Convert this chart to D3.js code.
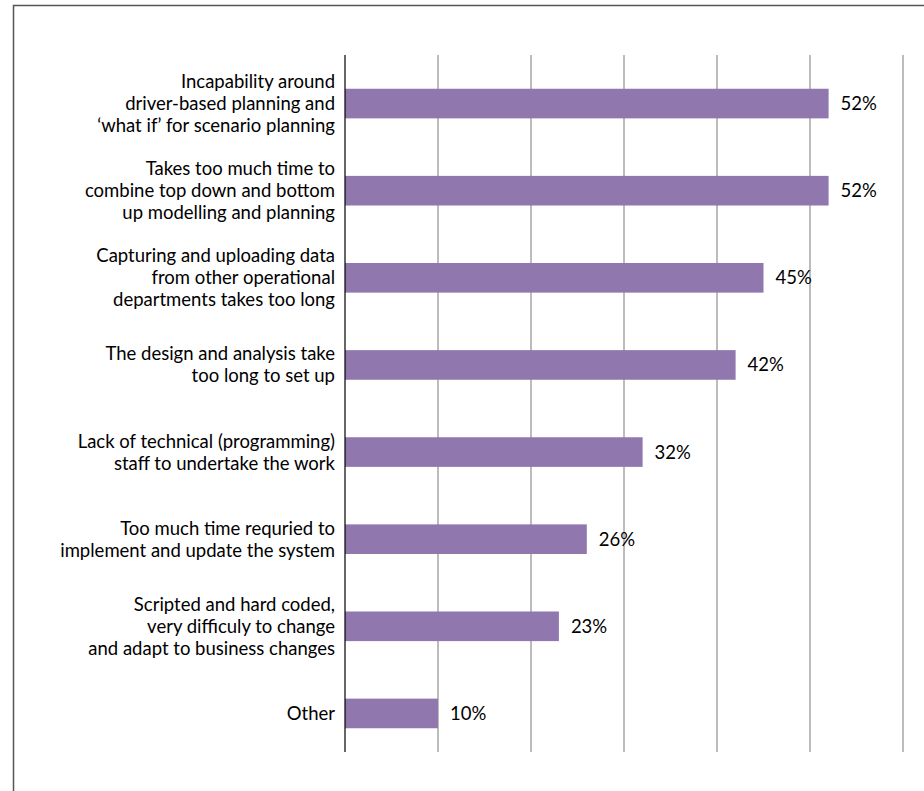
<!DOCTYPE html>
<html>
<head>
<meta charset="utf-8">
<script src="https://cdn.jsdelivr.net/npm/d3@7/dist/d3.min.js"></script>
<style>
  html, body { margin: 0; padding: 0; background: #fff; }
  svg { display: block; }
</style>
</head>
<body>
<svg id="chart" width="924" height="791"></svg>
<script>
// Survey responses: main frustrations with current planning tools
const categories = [
  ["Incapability around", "driver-based planning and", "\u2018what if\u2019 for scenario planning"],
  ["Takes too much time to", "combine top down and bottom", "up modelling and planning"],
  ["Capturing and uploading data", "from other operational", "departments takes too long"],
  ["The design and analysis take", "too long to set up"],
  ["Lack of technical (programming)", "staff to undertake the work"],
  ["Too much time requried to", "implement and update the system"],
  ["Scripted and hard coded,", "very difficuly to change", "and adapt to business changes"],
  ["Other"]
];
const values = [52, 52, 45, 42, 32, 26, 23, 10];
const xTicks = [0, 10, 20, 30, 40, 50, 60];

const svg = d3.select("#chart");
const fontFamily = "Lato, 'Open Sans', sans-serif";

// outer frame
svg.append("rect")
  .attr("x", 13.5).attr("y", 5.5)
  .attr("width", 930).attr("height", 800)
  .attr("fill", "none")
  .attr("stroke", "#555")
  .attr("stroke-width", 1.5);

const axisTop = 55, axisBottom = 752;
const plot = { left: 345, right: 903, top: 60, bottom: 757 };

const x = d3.scaleLinear().domain([0, 60]).range([plot.left, plot.right]);
const y = d3.scaleBand()
  .domain(d3.range(categories.length))
  .range([plot.top, plot.bottom])
  .paddingInner(0.66)
  .paddingOuter(0.33);

// vertical gridlines
svg.append("g")
  .selectAll("line")
  .data(xTicks.slice(1))
  .join("line")
  .attr("x1", d => x(d)).attr("x2", d => x(d))
  .attr("y1", axisTop).attr("y2", axisBottom)
  .attr("stroke", "#a6a6a6")
  .attr("stroke-width", 1.5);

// bars
svg.append("g")
  .selectAll("rect")
  .data(values)
  .join("rect")
  .attr("x", x(0))
  .attr("y", (d, i) => y(i))
  .attr("width", d => x(d) - x(0))
  .attr("height", y.bandwidth())
  .attr("fill", "#9077ae");

// category axis line
svg.append("line")
  .attr("x1", x(0)).attr("x2", x(0))
  .attr("y1", axisTop).attr("y2", axisBottom)
  .attr("stroke", "#000")
  .attr("stroke-width", 1.2);

// category labels (multi-line, right aligned, centred on bar)
const lineH = 22;
const labels = svg.append("g")
  .attr("font-family", fontFamily)
  .attr("font-size", 18.5)
  .attr("fill", "#000")
  .attr("text-anchor", "end");

categories.forEach((lines, i) => {
  const cy = y(i) + y.bandwidth() / 2;
  const t = labels.append("text")
    .attr("y", cy - (lines.length - 1) * lineH / 2);
  lines.forEach((ln, j) => {
    t.append("tspan")
      .attr("x", 335)
      .attr("dy", j === 0 ? "0.35em" : lineH)
      .text(ln);
  });
});

// value labels
svg.append("g")
  .attr("font-family", fontFamily)
  .attr("font-size", 18.5)
  .attr("fill", "#000")
  .selectAll("text")
  .data(values)
  .join("text")
  .attr("x", d => x(d) + 12)
  .attr("y", (d, i) => y(i) + y.bandwidth() / 2)
  .attr("dy", "0.35em")
  .text(d => d + "%");
</script>
</body>
</html>
